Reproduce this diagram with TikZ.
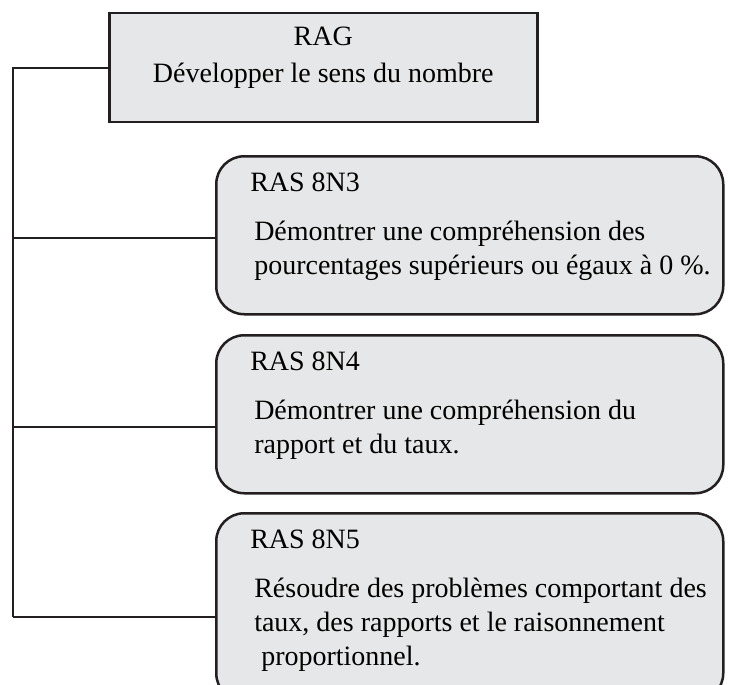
\documentclass[tikz,border=0pt]{standalone}
\usepackage{fontspec}
\setmainfont{Liberation Serif}

\definecolor{boxgray}{HTML}{E6E7E8}
\definecolor{ink}{HTML}{231F20}

% box text: height, RAS code, body lines
\newcommand{\rastext}[3]{\parbox[t][#1][t]{507pt}{\raggedright
  \vspace*{17pt}\leftskip=34pt RAS #2\par
  \vspace{15pt}\leftskip=38pt #3}}

\begin{document}
\begin{tikzpicture}[x=1pt,y=-1pt,font=\fontsize{28}{34}\selectfont,
  rag/.style={draw=ink, fill=boxgray, line width=2.5pt, anchor=north west, inner sep=0pt},
  ras/.style={rag, rounded corners=28pt},
  link/.style={draw=ink, line width=2pt}]
  \useasboundingbox (0,0) rectangle (729,685);
  \clip (0,0) rectangle (729,685);

  \node[rag] (rag) at (108,12) {\parbox[t][109pt][t]{428pt}{\centering
    \vspace*{14pt}RAG\\[3pt]Développer le sens du nombre}};

  \node[ras] (ras3) at (215,155) {\rastext{158pt}{8N3}{Démontrer une compréhension des\\
    pourcentages supérieurs ou égaux à 0~\%.}};
  \node[ras] (ras4) at (215,334) {\rastext{158pt}{8N4}{Démontrer une compréhension du\\
    rapport et du taux.}};
  \node[ras] (ras5) at (215,512) {\rastext{188pt}{8N5}{Résoudre des problèmes comportant des\\
    taux, des rapports et le raisonnement\\
    \hspace*{7pt}proportionnel.}}; % runs off the bottom

  % tree lines
  \foreach \n/\y in {3/238,4/427,5/617}
    \coordinate (j\n) at (13,\y);
  \draw[link] (rag.west) -| (j5);
  \foreach \n in {3,4,5}
    \draw[link] (j\n) -- (j\n -| ras\n.west);
\end{tikzpicture}
\end{document}
